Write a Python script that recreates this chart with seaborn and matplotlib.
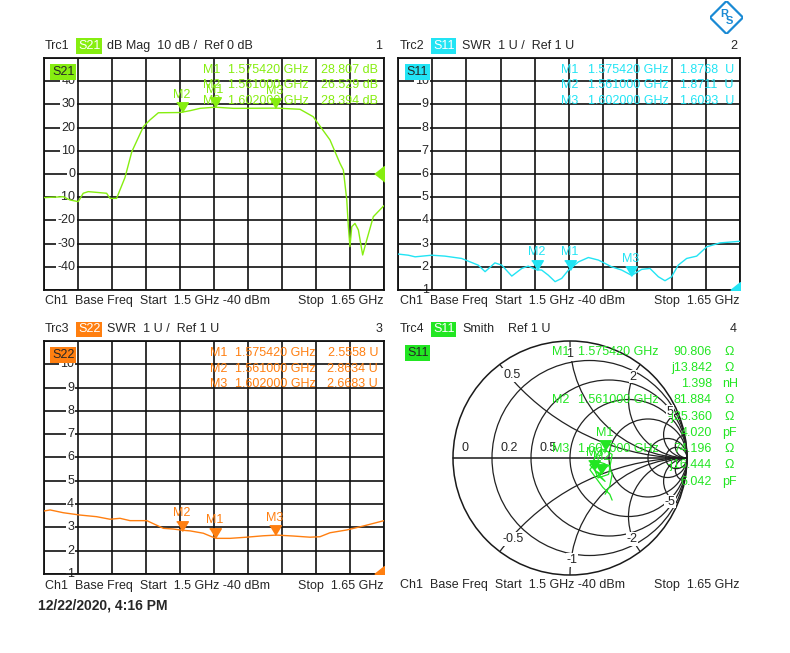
import numpy as np
import pandas as pd
import matplotlib
matplotlib.use('Agg')
import matplotlib.pyplot as plt
import seaborn as sns
from matplotlib.patches import Circle, Polygon

# trace data (GHz / dB / SWR)
s21_freq = [1.5000, 1.5087, 1.5117, 1.5153, 1.5175, 1.5197, 1.5278, 1.5293, 1.5322, 1.5359,
            1.5389, 1.5440, 1.5469, 1.5506, 1.5601, 1.5646, 1.5690, 1.5756, 1.5836, 1.5866,
            1.6027, 1.6130, 1.6188, 1.6262, 1.6306, 1.6321, 1.6336, 1.6343, 1.6350, 1.6358,
            1.6372, 1.6387, 1.6406, 1.6424, 1.6453, 1.6500]
s21_db = [-10.2, -9.8, -11.2, -11.9, -8.3, -7.6, -8.3, -10.5, -10.5, -1.5,
          9.6, 20.4, 23.3, 26.4, 26.5, 27.3, 28.3, 28.8, 28.3, 28.3,
          28.4, 27.9, 24.7, 14.7, 4.6, 1.7, -11.2, -22.7, -31.3, -22.7,
          -21.3, -24.1, -34.9, -28.4, -18.4, -13.6]

s11_freq = [1.5000, 1.5045, 1.5075, 1.5148, 1.5206, 1.5279, 1.5352, 1.5382, 1.5425, 1.5455,
            1.5499, 1.5543, 1.5571, 1.5608, 1.5630, 1.5659, 1.5689, 1.5718, 1.5747, 1.5791,
            1.5835, 1.5879, 1.5937, 1.5981, 1.6025, 1.6069, 1.6105, 1.6142, 1.6171, 1.6200,
            1.6229, 1.6266, 1.6310, 1.6354, 1.6412, 1.6500]
s11_swr = [2.55, 2.50, 2.43, 2.50, 2.46, 2.36, 2.07, 1.79, 2.17, 2.07,
           1.60, 1.93, 2.03, 1.87, 1.86, 1.64, 1.36, 1.50, 1.85, 2.21,
           2.40, 2.29, 2.00, 1.86, 1.63, 1.89, 1.93, 1.57, 1.40, 1.57,
           2.07, 2.36, 2.46, 2.86, 3.03, 3.10]

s22_freq = [1.5000, 1.5029, 1.5087, 1.5161, 1.5234, 1.5293, 1.5337, 1.5381, 1.5455, 1.5528,
            1.5572, 1.5609, 1.5646, 1.5704, 1.5741, 1.5763, 1.5822, 1.5895, 1.5968, 1.6027,
            1.6100, 1.6174, 1.6218, 1.6262, 1.6336, 1.6409, 1.6500]
s22_swr = [3.70, 3.75, 3.63, 3.53, 3.46, 3.35, 3.39, 3.29, 3.29, 2.96,
           2.93, 2.88, 2.85, 2.75, 2.60, 2.53, 2.53, 2.58, 2.64, 2.67,
           2.63, 2.58, 2.60, 2.77, 2.89, 3.06, 3.29]

# S11 on the Smith chart (reflection coefficient)
gamma_re = [0.30, 0.34, 0.36, 0.33, 0.24, 0.30, 0.22, 0.27, 0.30, 0.20, 0.26,
            0.30, 0.36, 0.33, 0.24, 0.21, 0.17, 0.22, 0.17, 0.28, 0.34, 0.36]
gamma_im = [-0.31, -0.24, -0.14, -0.06, -0.15, -0.20, -0.11, -0.14, -0.05, -0.02, 0.07,
            0.07, 0.03, -0.14, -0.17, -0.10, -0.06, -0.03, -0.10, -0.25, -0.31, -0.36]

# markers
mk_names = ['M1', 'M2', 'M3']
mk_freq = [1.575420, 1.561000, 1.602000]
s21_mk = [28.807, 26.529, 28.394]
s11_mk = [1.8768, 1.8711, 1.6093]
s22_mk = [2.5558, 2.8634, 2.6683]
smith_res = [90.806, 81.884, 74.196]
smith_reac = [13.842, -25.360, -16.444]
smith_lc = ['1.398', '4.020', '6.042']
smith_lc_unit = ['nH', 'pF', 'pF']

s21_ticks = [40, 30, 20, 10, 0, -10, -20, -30, -40]
swr_ticks = [10, 9, 8, 7, 6, 5, 4, 3, 2, 1]
smith_r_circles = [0.2, 0.5, 1, 2, 5, 10]
smith_x_arcs = [0.5, 1, 2, 5, 10, -0.5, -1, -2, -5, -10]

C_S21 = '#86ee10'
C_S11 = '#22e4f4'
C_S22 = '#ff7f10'
C_SM = '#22e622'
GRID = '#111111'

W, H = 790, 653
sns.set_theme(style='white')
plt.rcParams['font.family'] = ['Liberation Sans', 'DejaVu Sans']
FS = 9

fig = plt.figure(figsize=(W / 100, H / 100), dpi=100)


def fxy(x, y):
    return x / W, 1 - y / H


def ftext(x, y, s, **kw):
    kw.setdefault('fontsize', FS)
    kw.setdefault('va', 'center')
    fig.text(*fxy(x, y), s, **kw)


def box_axes(x0, y0, x1, y1):
    return fig.add_axes([x0 / W, 1 - y1 / H, (x1 - x0) / W, (y1 - y0) / H])


tri_down = [(-0.6, 1.0), (0.6, 1.0), (0.0, 0.0)]
tri_ref = [(-1.0, 0.0), (0.0, 0.8), (0.0, -0.8)]


def header(x, y, trc, tag, color, rest, num, xnum):
    ftext(x, y, trc)
    ftext(x + 33, y, tag, color='white',
          bbox=dict(fc=color, ec='none', boxstyle='square,pad=0.15'))
    for dx, s in rest:
        ftext(x + dx, y, s)
    ftext(xnum, y, num, ha='right')


def footer(x0, x1, y):
    ftext(x0, y, 'Ch1  Base Freq  Start  1.5 GHz -40 dBm')
    ftext(x1, y, 'Stop  1.65 GHz', ha='right')


def trace_panel(ax, freq, vals, color, ylim, ticks, fmt, mk_vals, ref_val, tag, lab_x):
    df = pd.DataFrame({'f': freq, 'v': vals})
    sns.lineplot(data=df, x='f', y='v', ax=ax, color=color, lw=1.0,
                 sort=False, estimator=None, zorder=3)
    ax.set_xlim(1.5, 1.65)
    ax.set_ylim(*ylim)
    ax.set_xticks(np.linspace(1.5, 1.65, 11))
    ax.set_yticks(np.linspace(ylim[0], ylim[1], 11))
    ax.grid(True, color=GRID, lw=1.2)
    ax.set_axisbelow(True)
    ax.tick_params(length=0, labelbottom=False, labelleft=False)
    ax.set_xlabel('')
    ax.set_ylabel('')
    for sp in ax.spines.values():
        sp.set_color(GRID)
        sp.set_linewidth(1.3)
    for t in ticks:
        ax.text(lab_x, t, fmt.format(t), transform=ax.get_yaxis_transform(),
                ha='right', va='center', fontsize=FS, clip_on=False, zorder=2.5,
                bbox=dict(fc='white', ec='none', boxstyle='square,pad=0.1'))
    ax.text(0.025, 0.94, tag, transform=ax.transAxes, fontsize=FS, va='center',
            zorder=6, bbox=dict(fc=color, ec='none', boxstyle='square,pad=0.15'))
    ax.plot(mk_freq, mk_vals, ls='none', marker=tri_down, ms=14, color=color, zorder=5)
    for n, f, v in zip(mk_names, mk_freq, mk_vals):
        ax.annotate(n, (f, v), xytext=(0, 12.5), textcoords='offset points',
                    ha='center', va='center', color=color, fontsize=FS, zorder=5)
    ax.plot([1.65], [ref_val], ls='none', marker=tri_ref, ms=14, color=color,
            zorder=5, clip_on=True)


def readouts(x_name, x_freq, x_val, ys, vals, fmt, color):
    for n, f, v, y in zip(mk_names, mk_freq, vals, ys):
        ftext(x_name, y, n, color=color)
        ftext(x_freq, y, f'{f:.6f} GHz', color=color)
        ftext(x_val, y, fmt.format(v), color=color, ha='right')


# panel 1: S21
ax1 = box_axes(43.5, 58, 384, 290)
trace_panel(ax1, s21_freq, s21_db, C_S21, (-50, 50), s21_ticks, '{}', s21_mk, 0, 'S21', 0.094)
header(45, 46, 'Trc1', 'S21', C_S21,
       [(62, 'dB Mag  10 dB /  Ref 0 dB')], '1', 382)
readouts(203, 228, 378, [70, 85.5, 101], s21_mk, '{:.3f} dB', C_S21)
footer(45, 384, 301.5)

# panel 2: S11 SWR
ax2 = box_axes(398, 58, 740, 290)
trace_panel(ax2, s11_freq, s11_swr, C_S11, (1, 11), swr_ticks, '{}', s11_mk, 1, 'S11', 0.09)
header(400, 46, 'Trc2', 'S11', C_S11, [(62, 'SWR  1 U /  Ref 1 U')], '2', 737)
readouts(561, 588, 734, [70, 85.5, 101], s11_mk, '{:.4f}  U', C_S11)
footer(400, 740, 301.5)

# panel 3: S22 SWR
ax3 = box_axes(43.5, 341, 384, 574)
trace_panel(ax3, s22_freq, s22_swr, C_S22, (1, 11), swr_ticks, '{}', s22_mk, 1, 'S22', 0.09)
header(45, 329.5, 'Trc3', 'S22', C_S22, [(62, 'SWR  1 U /  Ref 1 U')], '3', 382)
readouts(210, 235, 378, [353, 368.5, 384], s22_mk, '{:.4f} U', C_S22)
footer(45, 384, 585.5)

# panel 4: Smith chart
ax4 = box_axes(440, 328, 700, 588)
lim = 130 / 117
ax4.set_xlim(-lim, lim)
ax4.set_ylim(-lim, lim)
ax4.set_aspect('equal')
ax4.axis('off')
clip = Circle((0, 0), 1, transform=ax4.transData)
ax4.add_patch(Circle((0, 0), 1, fill=False, ec='#1a1a1a', lw=1.1))
for r in smith_r_circles:
    ax4.add_patch(Circle((r / (1 + r), 0), 1 / (1 + r), fill=False, ec='#222', lw=0.9))
for x in smith_x_arcs:
    c = Circle((1, 1 / x), 1 / abs(x), fill=False, ec='#222', lw=0.9)
    ax4.add_patch(c)
    c.set_clip_path(clip)
ax4.plot([-1, 1], [0, 0], color='#1a1a1a', lw=1.1)
smith_labels = [('0', -0.897, 0.088), ('0.2', -0.521, 0.088), ('0.5', -0.188, 0.088),
                ('0.5', -0.498, 0.709), ('1', 0.0, 0.889), ('2', 0.538, 0.695),
                ('5', 0.855, 0.396), ('-0.5', -0.487, -0.692), ('-1', 0.015, -0.872),
                ('-2', 0.527, -0.692), ('-5', 0.855, -0.373)]
for s, x, y in smith_labels:
    ax4.text(x, y, s, ha='center', va='center', fontsize=FS, zorder=3,
             bbox=dict(fc='white', ec='none', boxstyle='square,pad=0.05'))
sns.lineplot(x=gamma_re, y=gamma_im, ax=ax4, sort=False, estimator=None,
             color=C_SM, lw=0.9, zorder=4)
z = (np.array(smith_res) + 1j * np.array(smith_reac)) / 50.0
g = (z - 1) / (z + 1)
ax4.plot(g.real, g.imag, ls='none', marker=tri_down, ms=14, color=C_SM, zorder=5)
for n, gr, gi in zip(mk_names, g.real, g.imag):
    ax4.annotate(n, (gr, gi), xytext=(0, 12.5), textcoords='offset points',
                 ha='center', va='center', color=C_SM, fontsize=FS, zorder=6)
ax4.set_xlabel('')
ax4.set_ylabel('')

header(400, 329.5, 'Trc4', 'S11', C_SM, [(62, 'Smith'), (108, 'Ref 1 U')], '4', 737)
ftext(407, 353, 'S11', bbox=dict(fc=C_SM, ec='none', boxstyle='square,pad=0.15'))
rows = [351.7, 367.7, 383.7, 400, 416.7, 432.7, 449, 465.3, 481.7]
for i, n in enumerate(mk_names):
    y0, y1, y2 = rows[3 * i:3 * i + 3]
    ftext(552, y0, n, color=C_SM)
    ftext(578, y0, f'{mk_freq[i]:.6f} GHz', color=C_SM)
    ftext(712, y0, f'{smith_res[i]:.3f}', color=C_SM, ha='right')
    ftext(724, y0, '\u03a9', color=C_SM)
    xs = smith_reac[i]
    ftext(712, y1, ('j' if xs >= 0 else '-j') + f'{abs(xs):.3f}', color=C_SM, ha='right')
    ftext(724, y1, '\u03a9', color=C_SM)
    ftext(712, y2, smith_lc[i], color=C_SM, ha='right')
    ftext(722, y2, smith_lc_unit[i], color=C_SM)
footer(400, 740, 585)

# date stamp
ftext(38, 605, '12/22/2020, 4:16 PM', fontsize=10, fontweight='bold')

# R&S logo
axl = box_axes(710, 1, 743, 34)
axl.set_xlim(-1, 1)
axl.set_ylim(-1, 1)
axl.axis('off')
axl.add_patch(Polygon([(0, 1), (1, 0), (0, -1), (-1, 0)], closed=True,
                      fill=False, ec='#1a8ad4', lw=1.6))
axl.text(-0.12, 0.22, 'R', color='#1a8ad4', fontsize=8, ha='center', va='center',
         fontweight='bold')
axl.text(0.15, -0.22, 'S', color='#1a8ad4', fontsize=8, ha='center', va='center',
         fontweight='bold')

fig.savefig('out.png', dpi=100, facecolor='white')
